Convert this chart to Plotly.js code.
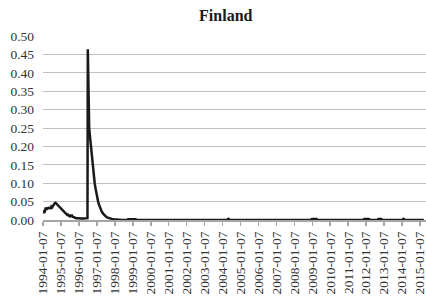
<!DOCTYPE html>
<html>
<head>
<meta charset="utf-8">
<script src="https://cdn.plot.ly/plotly-3.0.1.min.js"></script>
<style>html,body{margin:0;padding:0;background:#fff;}#chart{width:426px;height:299px;}</style>
</head>
<body>
<div id="chart"></div>
<script>
const dates = [
"1994-01-07","1994-01-21","1994-02-04","1994-02-18","1994-03-04","1994-03-18","1994-04-01","1994-04-15","1994-04-29","1994-05-13",
"1994-05-27","1994-06-10","1994-06-24","1994-07-08","1994-07-22","1994-08-05","1994-08-19","1994-09-02","1994-09-16","1994-09-30",
"1994-10-14","1994-10-28","1994-11-11","1994-11-25","1994-12-09","1994-12-23","1995-01-06","1995-01-20","1995-02-03","1995-02-17",
"1995-03-03","1995-03-17","1995-03-31","1995-04-14","1995-04-28","1995-05-12","1995-05-26","1995-06-09","1995-06-23","1995-07-07",
"1995-07-21","1995-08-04","1995-08-18","1995-09-01","1995-09-15","1995-09-29","1995-10-13","1995-11-10","1995-12-08","1996-01-05",
"1996-02-02","1996-03-01","1996-04-05","1996-05-03","1996-06-07","1996-06-28","1996-07-05","1996-07-12","1996-07-19","1996-07-26",
"1996-08-02","1996-08-16","1996-08-30","1996-09-13","1996-09-27","1996-10-11","1996-10-25","1996-11-08","1996-11-22","1996-12-06",
"1996-12-20","1997-01-03","1997-01-17","1997-01-31","1997-02-14","1997-03-14","1997-04-11","1997-05-09","1997-06-06","1997-07-04",
"1997-08-01","1997-09-05","1997-10-03","1997-11-07","1997-12-05","1998-02-06","1998-06-05","1998-09-04","1998-10-02","1999-03-05",
"1999-04-02","2004-04-02","2004-05-07","2004-06-04","2008-12-05","2009-01-02","2009-04-03","2009-05-01","2011-11-04","2011-12-02",
"2012-03-02","2012-03-30","2012-08-31","2012-09-14","2012-11-09","2012-12-07","2014-01-03","2014-02-07","2014-03-07","2015-03-27"
];
const values = [
0.018,0.022,0.020,0.030,0.034,0.028,0.033,0.030,0.035,0.031,
0.034,0.030,0.036,0.034,0.038,0.040,0.043,0.046,0.047,0.045,
0.042,0.043,0.040,0.037,0.035,0.033,0.031,0.028,0.027,0.024,
0.022,0.020,0.019,0.017,0.016,0.014,0.015,0.012,0.011,0.010,
0.012,0.011,0.012,0.009,0.008,0.007,0.006,0.005,0.005,0.004,
0.004,0.004,0.004,0.004,0.004,0.005,0.464,0.400,0.330,0.280,
0.250,0.230,0.210,0.190,0.165,0.150,0.130,0.115,0.100,0.088,
0.076,0.066,0.057,0.050,0.043,0.032,0.024,0.018,0.013,0.010,
0.007,0.005,0.004,0.003,0.002,0.001,0.000,0.000,0.002,0.002,
0.000,0.000,0.003,0.000,0.000,0.003,0.003,0.000,0.000,0.003,
0.003,0.000,0.000,0.003,0.003,0.000,0.000,0.003,0.000,0.000
];
const tickYears = ["1994","1995","1996","1997","1998","1999","2000","2001","2002","2003","2004",
"2005","2006","2007","2008","2009","2010","2011","2012","2013","2014","2015"];
const tickDates = tickYears.map(y => y + "-01-07");
const tickLabels = tickYears.map(y => y + "-01-07");
const yTicks = [0,0.05,0.10,0.15,0.20,0.25,0.30,0.35,0.40,0.45,0.50];

const font = "Liberation Serif, Times New Roman, serif";
Plotly.newPlot("chart", [{
  x: dates, y: values, type: "scatter", mode: "lines",
  line: {color: "#1a1a1a", width: 2.5}, hoverinfo: "skip"
}], {
  width: 426, height: 299,
  margin: {l: 43, r: 0, t: 36, b: 78.5, pad: 0},
  paper_bgcolor: "#fff", plot_bgcolor: "#fff",
  showlegend: false,
  title: {text: "<b>Finland</b>", x: 0.53, xref: "container", y: 0.95, yref: "container", yanchor: "middle",
          font: {family: font, size: 16, color: "#1a1a1a"}},
  xaxis: {
    type: "date", range: ["1994-01-05", "2015-05-10"],
    tickmode: "array", tickvals: tickDates, ticktext: tickLabels, tickangle: -90,
    ticks: "outside", ticklen: 4, tickcolor: "#a6a6a6", tickwidth: 1.5,
    showline: true, linecolor: "#a6a6a6", linewidth: 2,
    showgrid: false, zeroline: false, automargin: false,
    ticklabeloverflow: "allow",
    tickfont: {family: font, size: 13.5, color: "#333"}
  },
  yaxis: {
    range: [0, 0.5], tickmode: "array", tickvals: yTicks, tickformat: ".2f",
    showgrid: true, gridcolor: "#c0c0c0", gridwidth: 1,
    zeroline: false, showline: false, ticks: "", automargin: false,
    ticklabelstandoff: 8,
    tickfont: {family: font, size: 13.5, color: "#333"}
  }
}, {staticPlot: true, displayModeBar: false});
</script>
</body>
</html>
